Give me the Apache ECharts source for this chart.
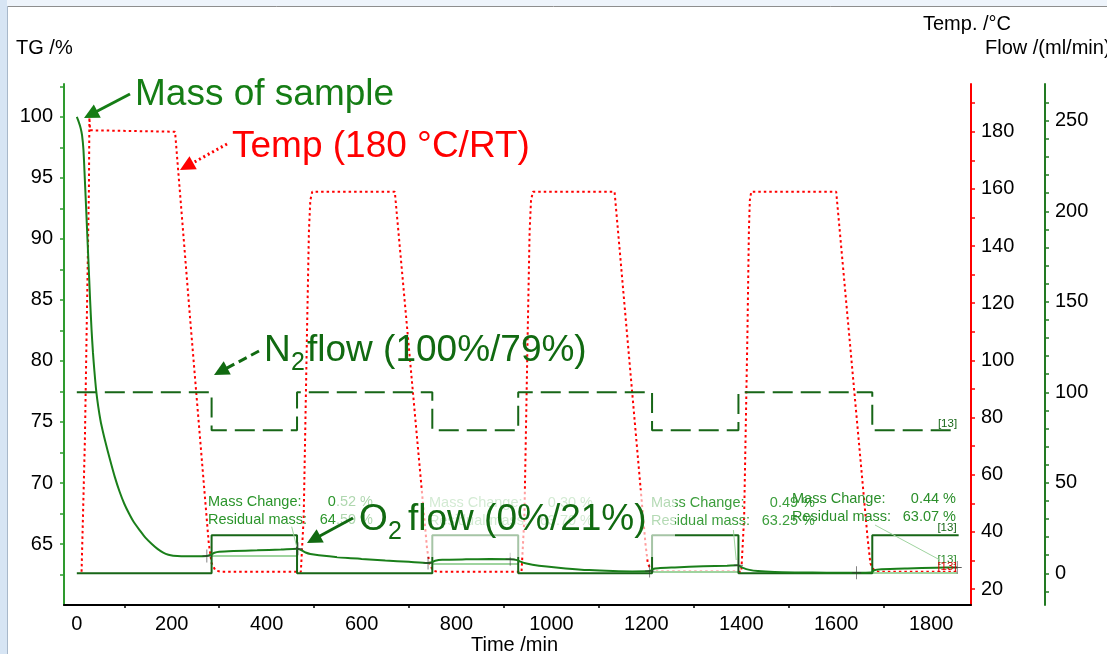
<!DOCTYPE html>
<html>
<head>
<meta charset="utf-8">
<script src="https://cdn.jsdelivr.net/npm/echarts@6/dist/echarts.min.js"></script>
<style>
  html, body { margin: 0; padding: 0; background: #fff; }
  #chart { width: 1107px; height: 654px; }
</style>
</head>
<body>
<div id="chart"></div>
<script>
// TG curve, [time /min, mass /%]
const tgData = [
  [0,100],[4,99.6],[8,99.1],[11,98.5],[14,97.3],[17,94.8],[20,92.2],[23,89.5],[26,86.8],[28,85.0],
  [31,82.6],[34,80.7],[37,79.2],[41,77.5],[45,76.3],[50,75.1],[55,74.2],[60,73.4],[70,71.9],[80,70.5],
  [90,69.3],[100,68.3],[110,67.5],[120,66.8],[133,66.1],[145,65.5],[158,65.0],[170,64.6],[182,64.3],
  [193,64.12],[203,64.04],[220,64.0],[250,64.0],[274,64.02],[284,64.15],[290,64.28],[300,64.36],[330,64.42],
  [380,64.48],[430,64.55],[463,64.62],[468,64.58],[475,64.45],[482,64.3],[492,64.18],[510,64.08],
  [550,63.92],[600,63.78],[650,63.65],[700,63.54],[740,63.45],[748,63.5],[755,63.62],[770,63.7],
  [820,63.74],[870,63.76],[913,63.75],[928,63.68],[935,63.55],[945,63.42],[960,63.3],[990,63.15],
  [1030,63.0],[1080,62.86],[1130,62.78],[1170,62.75],[1207,62.78],[1214,62.95],[1225,63.02],
  [1260,63.08],[1320,63.17],[1370,63.22],[1392,63.25],[1398,63.15],[1405,63.02],[1415,62.9],
  [1435,62.78],[1470,62.7],[1520,62.67],[1580,62.65],[1643,62.64],[1674,62.66],[1680,62.85],
  [1695,62.93],[1750,63.0],[1810,63.05],[1855,63.08]
];

// furnace temperature, [time /min, °C]
const tempData = [
  [10,26],[17,72],[25.5,160],[26.5,185],[28,180.5],[32,180],[207,180],[240,112],[270,52],[278,36],
  [284,29],[292,26.5],[305,26],[472,26],[478,45],[485,110],[489,145],[492,156],[496,159],
  [670,159],[738,34],[743,29],[750,26.5],[760,26],[937,26],[943,45],[950,110],[954,145],
  [957,156],[961,159],[1133,159],[1198,36],[1203,29],[1210,26.5],[1220,26],[1400,26],[1406,45],
  [1413,110],[1416,145],[1418,156],[1421,159],[1600,159],[1666,38],[1672,29],[1680,26.5],
  [1690,26],[1855,26]
];

// gas flows, [time /min, ml/min]
const o2Flow = [
  [0,0],[284,0],[284,21],[464,21],[464,0],[749,0],[749,21],[930,21],[930,0],
  [1212,0],[1212,21],[1394,21],[1394,0],[1676,0],[1676,21],[1858,21]
];
const n2Flow = [
  [0,100],[284,100],[284,79],[464,79],[464,100],[749,100],[749,79],[930,79],[930,100],
  [1212,100],[1212,79],[1394,79],[1394,100],[1676,100],[1676,79],[1858,79]
];

// mass change evaluations: start / end points and baselines
const evalPoints = [[274,64.02],[466,64.62],[740,63.45],[913,63.75],[1207,62.78],[1394,63.25],[1643,62.64],[1855,63.08]];
const evalBase = [[284,466,64.07],[749,930,63.40],[1212,1394,62.76],[1676,1855,62.63]];
const evalLabels = [
  { x: 208, y: 502, xr: 373, color: '#2b952b', change: '0.52 %', residual: '64.59 %' },
  { x: 429, y: 503, xr: 593, color: '#8cc98c', change: '0.30 %', residual: '63.70 %' },
  { x: 651, y: 503, xr: 815, color: '#3c9e3c', change: '0.49 %', residual: '63.25 %' },
  { x: 792, y: 499, xr: 956, color: '#2b8f2b', change: '0.44 %', residual: '63.07 %' }
];

// axis ticks
const timeLabels = [0,200,400,600,800,1000,1200,1400,1600,1800];
const timeTicks = [100,300,500,700,900,1100,1300,1500,1700];
const tgLabels = [65,70,75,80,85,90,95,100];
const tgTicks = [62.5,65,67.5,70,72.5,75,77.5,80,82.5,85,87.5,90,92.5,95,97.5,100,102.5];
const tempLabels = [20,40,60,80,100,120,140,160,180];
const tempTicks = [20,30,40,50,60,70,80,90,100,110,120,130,140,150,160,170,180,190];
const flowLabels = [0,50,100,150,200,250];
const flowTicks = [-10,0,10,20,30,40,50,60,70,80,90,100,110,120,130,140,150,160,170,180,190,200,210,220,230,240,250,260];

const FONT = '"Liberation Sans", Arial, sans-serif';
const GREEN = '#1a7f1a', DKGREEN = '#176617', RED = '#ff0000';
const plain = v => String(v);

function txt(x, y, s, size, color, align, z) {
  return { type: 'text', x: x, y: y, z: z || 50, silent: true,
    style: { text: s, fill: color, fontSize: size, fontFamily: FONT, align: align || 'left', verticalAlign: 'middle' } };
}

function arrow(x1, y1, x2, y2, color, dash, z) {
  let dx = x2 - x1, dy = y2 - y1, len = Math.hypot(dx, dy), ux = dx / len, uy = dy / len;
  let hl = 15, hw = 7.5, bx = x2 - ux * hl, by = y2 - uy * hl;
  let st = { stroke: color, lineWidth: 3 };
  if (dash) st.lineDash = dash;
  return [
    { type: 'line', z: z, silent: true, shape: { x1: x1, y1: y1, x2: bx + ux * 2, y2: by + uy * 2 }, style: st },
    { type: 'polygon', z: z, silent: true, shape: { points: [[x2, y2], [bx - uy * hw, by + ux * hw], [bx + uy * hw, by - ux * hw]] }, style: { fill: color } }
  ];
}

let graphics = [
  // window frame
  { type: 'rect', z: 200, shape: { x: 0, y: 0, width: 1107, height: 6 }, style: { fill: '#eef4fb' } },
  { type: 'line', z: 200, shape: { x1: 0, y1: 6.5, x2: 1107, y2: 6.5 }, style: { stroke: '#8e8e8e', lineWidth: 1 } },
  { type: 'rect', z: 200, shape: { x: 0, y: 0, width: 7, height: 654 }, style: { fill: '#d7e5f4' } },
  { type: 'line', z: 200, shape: { x1: 7.5, y1: 6, x2: 7.5, y2: 654 }, style: { stroke: '#a8b8ca', lineWidth: 1 } },
  // axis titles
  txt(16, 48, 'TG /%', 20, '#000'),
  txt(923, 24, 'Temp. /°C', 20, '#000'),
  txt(985, 48, 'Flow /(ml/min)', 20, '#000'),
  txt(471, 645, 'Time /min', 20, '#000'),
  // end labels
  txt(947.5, 424, '[13]', 11.5, DKGREEN, 'center'),
  txt(947, 528, '[13]', 11.5, DKGREEN, 'center'),
  txt(947, 560, '[13]', 11.5, '#2a8a2a', 'center'),
  txt(947, 566.5, '[13]', 11.5, '#e00000', 'center'),
  // evaluation connectors
  { type: 'line', z: 50, shape: { x1: 291.7, y1: 526.7, x2: 296.7, y2: 546.7 }, style: { stroke: '#9fd49f', lineWidth: 1 } },
  { type: 'line', z: 50, shape: { x1: 733.4, y1: 530, x2: 736.2, y2: 560 }, style: { stroke: '#9fd49f', lineWidth: 1 } },
  { type: 'line', z: 50, shape: { x1: 875, y1: 525, x2: 940, y2: 560 }, style: { stroke: '#9fd49f', lineWidth: 1 } }
];

evalLabels.forEach(e => {
  graphics.push(txt(e.x, e.y, 'Mass Change:', 14.5, e.color, 'left', 55));
  graphics.push(txt(e.xr, e.y, e.change, 14.5, e.color, 'right', 55));
  graphics.push(txt(e.x, e.y + 17.5, 'Residual mass:', 14.5, e.color, 'left', 55));
  graphics.push(txt(e.xr, e.y + 17.5, e.residual, 14.5, e.color, 'right', 55));
});

graphics = graphics.concat(
  [txt(135, 95, 'Mass of sample', 37, '#157d15', 'left', 65)],
  arrow(130, 94, 84, 118, '#157d15', null, 65),
  [txt(232, 147, 'Temp (180 °C/RT)', 37, RED, 'left', 65)],
  arrow(227, 144, 180, 170, RED, [2, 3], 65),
  [txt(264, 351, 'N', 37, '#116a11', 'left', 65),
   txt(291, 363.5, '2', 25, '#116a11', 'left', 65),
   txt(307, 351, 'flow (100%/79%)', 37, '#116a11', 'left', 65)],
  arrow(259, 351, 214, 375, '#116a11', [9, 5], 65),
  [{ type: 'rect', z: 60, silent: true, shape: { x: 337, y: 490, width: 338, height: 67 }, style: { fill: 'rgba(255,255,255,0.62)' } },
   txt(359, 520, 'O', 37, '#116a11', 'left', 65),
   txt(388, 532, '2', 25, '#116a11', 'left', 65),
   txt(408, 520, 'flow (0%/21%)', 37, '#116a11', 'left', 65)],
  arrow(353, 518, 307, 543, '#116a11', null, 65)
);

const chart = echarts.init(document.getElementById('chart'), null, { renderer: 'canvas' });
chart.setOption({
  animation: false,
  backgroundColor: '#fff',
  grid: { left: 64, right: 136, top: 84, bottom: 49, containLabel: false },
  xAxis: {
    type: 'value', min: -27, max: 1884,
    axisLine: { show: true, onZero: false, lineStyle: { color: '#000', width: 2 } },
    axisTick: { show: true, length: 3, customValues: timeTicks, lineStyle: { color: '#000', width: 1.5 } },
    axisLabel: { customValues: timeLabels, formatter: plain, color: '#000', fontSize: 20, fontFamily: FONT, margin: 9 },
    splitLine: { show: false }
  },
  yAxis: [
    {
      type: 'value', position: 'left', min: 60, max: 102.7,
      axisLine: { show: true, onZero: false, lineStyle: { color: '#2e9a2e', width: 2 } },
      axisTick: { show: true, length: 4, customValues: tgTicks, lineStyle: { color: '#2e9a2e', width: 1.5 } },
      axisLabel: { customValues: tgLabels, formatter: plain, color: '#000', fontSize: 20, fontFamily: FONT, margin: 11 },
      splitLine: { show: false }
    },
    {
      type: 'value', position: 'right', min: 14.4, max: 196.7,
      axisLine: { show: true, onZero: false, lineStyle: { color: RED, width: 2 } },
      axisTick: { show: true, length: 4, customValues: tempTicks, lineStyle: { color: RED, width: 1.5 } },
      axisLabel: { customValues: tempLabels, formatter: plain, color: '#000', fontSize: 20, fontFamily: FONT, margin: 10 },
      splitLine: { show: false }
    },
    {
      type: 'value', position: 'right', offset: 74, min: -17.5, max: 270.3,
      axisLine: { show: true, onZero: false, lineStyle: { color: '#227a22', width: 2 } },
      axisTick: { show: true, length: 4, customValues: flowTicks, lineStyle: { color: '#227a22', width: 1.5 } },
      axisLabel: { customValues: flowLabels, formatter: plain, color: '#000', fontSize: 20, fontFamily: FONT, margin: 10 },
      splitLine: { show: false }
    }
  ],
  series: [
    {
      name: 'TG', type: 'line', yAxisIndex: 0, data: tgData, showSymbol: false, z: 6, smooth: 0.25,
      lineStyle: { color: GREEN, width: 2 },
      markLine: {
        silent: true, symbol: ['none', 'none'], label: { show: false },
        lineStyle: { color: '#9fd49f', width: 2, type: 'solid' },
        data: evalBase.map(e => [{ coord: [e[0], e[2]] }, { coord: [e[1], e[2]] }])
      }
    },
    {
      name: 'Temp', type: 'line', yAxisIndex: 1, data: tempData, showSymbol: false, z: 4,
      lineStyle: { color: RED, width: 2, type: [2.5, 3] }
    },
    {
      name: 'O2', type: 'line', yAxisIndex: 2, data: o2Flow, showSymbol: false, z: 5,
      lineStyle: { color: DKGREEN, width: 2 }
    },
    {
      name: 'N2', type: 'line', yAxisIndex: 2, data: n2Flow, showSymbol: false, z: 5,
      lineStyle: { color: DKGREEN, width: 2, type: [20, 8] }
    },
    {
      name: 'eval', type: 'scatter', yAxisIndex: 0, data: evalPoints, z: 7,
      symbol: 'path://M0,6H12V7H0Z M5.5,0H6.5V13H5.5Z', symbolSize: [9, 13],
      itemStyle: { color: '#333' }
    }
  ],
  graphic: graphics
});
</script>
</body>
</html>
